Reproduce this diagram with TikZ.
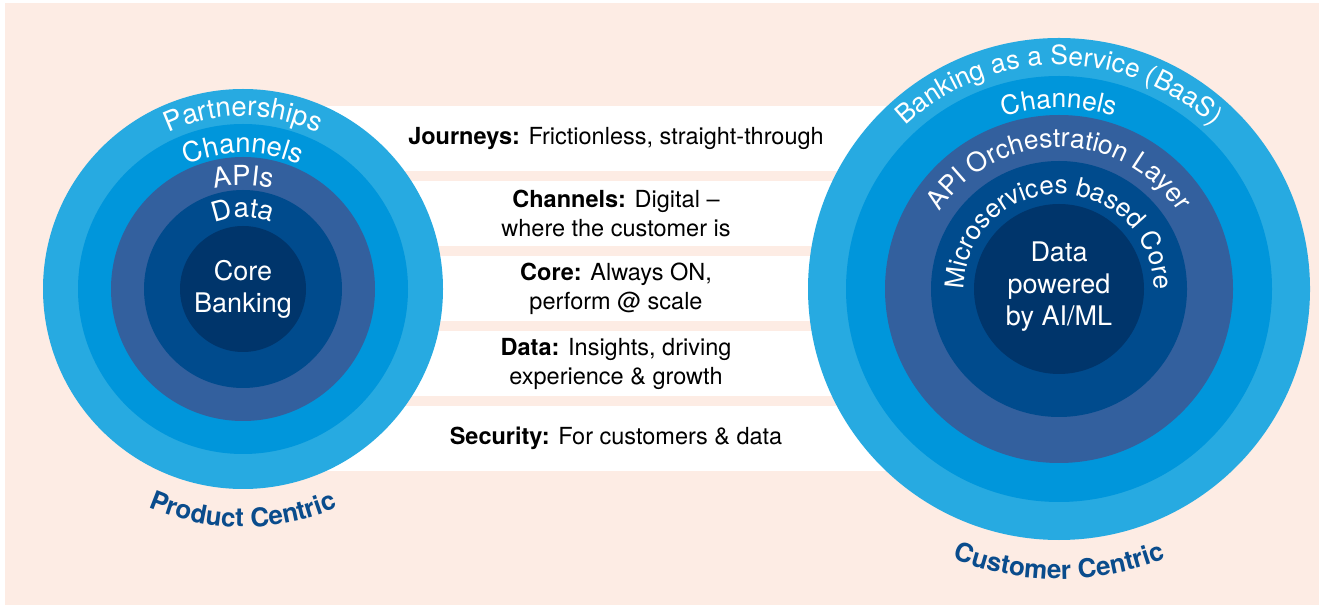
\documentclass[tikz,border=0pt]{standalone}
\usepackage{fontspec}
\setmainfont{TeX Gyre Heros}
\usetikzlibrary{decorations.text}
\definecolor{peach}{HTML}{FDECE4}
\definecolor{ringA}{HTML}{27AAE1}
\definecolor{ringB}{HTML}{0096DB}
\definecolor{ringC}{HTML}{33609E}
\definecolor{ringD}{HTML}{004B8D}
\definecolor{ringE}{HTML}{00356B}
\definecolor{labelblue}{HTML}{0A4C8C}

\begin{document}
\begin{tikzpicture}[x=1pt,y=1pt,
	ringtext/.style 2 args={decorate,decoration={text along path,text align=center,
		text={|\fontsize{#1}{#1}\selectfont\color{white}|#2}}},
	labeltext/.style={decorate,decoration={text along path,text align=center,
		text={|\fontsize{26}{26}\selectfont\bfseries\color{labelblue}|#1}}},
	bandtext/.style={font=\fontsize{23.5}{29}\selectfont,align=center,text=black},
	coretext/.style={font=\fontsize{27}{32}\selectfont,align=center,text=white}]
	\useasboundingbox (0,0) rectangle (1319,605);
	\fill[peach] (5,0) rectangle (1319,602);
	\coordinate (pc) at (243,316); % product centric
	\coordinate (cc) at (1059,316); % customer centric
	% white bands behind the circles
	\foreach \i in {0,...,4}
		\fill[white] (243,{434-75*\i}) rectangle (1059,{499-75*\i});
	% rings
	\foreach \r/\c in {200/ringA,165/ringB,132/ringC,99/ringD,63/ringE}
		\fill[\c] (pc) circle (\r);
	\foreach \r/\c in {251/ringA,213/ringB,174/ringC,128/ringD,85/ringE}
		\fill[\c] (cc) circle (\r);
	% ring labels, left
	\path[ringtext={27.5}{Partnerships}] (pc) ++(160:173) arc (160:20:173);
	\path[ringtext={27.5}{Channels}] (pc) ++(160:136) arc (160:20:136);
	\path[ringtext={27.5}{APIs}] (pc) ++(170:104) arc (170:10:104);
	\path[ringtext={27.5}{Data}] (pc) ++(170:72) arc (170:10:72);
	\node[coretext] (corebank) at (pc) {Core\\Banking};
	% ring labels, right
	\path[ringtext={26.5}{Banking as a Service (BaaS)}] (cc) ++(170:224) arc (170:10:224);
	\path[ringtext={26.5}{Channels}] (cc) ++(160:181) arc (160:20:181);
	\path[ringtext={26.5}{API Orchestration Layer}] (cc) ++(190:142) arc (190:-10:142);
	\path[ringtext={26}{Microservices based Core}] (cc) ++(200:95) arc (200:-20:95);
	\node[coretext] (dataai) at (1059,318) {Data\\powered\\by AI/ML};
	% captions under the circles
	\path[labeltext=Product Centric] (pc) ++(225:238) arc (225:315:238);
	\path[labeltext=Customer Centric] (cc) ++(230:290) arc (230:310:290);
	% band texts
	\node[bandtext] (journeys) at (616,466.5) {\textbf{Journeys:} Frictionless, straight-through};
	\node[bandtext] (channels) at (616,391.5) {\textbf{Channels:} Digital \textendash\\where the customer is};
	\node[bandtext] (core) at (616,316.5) {\textbf{Core:} Always ON,\\perform @ scale};
	\node[bandtext] (data) at (616,241.5) {\textbf{Data:} Insights, driving\\experience \& growth};
	\node[bandtext] (security) at (616,166.5) {\textbf{Security:} For customers \& data};
\end{tikzpicture}
\end{document}
